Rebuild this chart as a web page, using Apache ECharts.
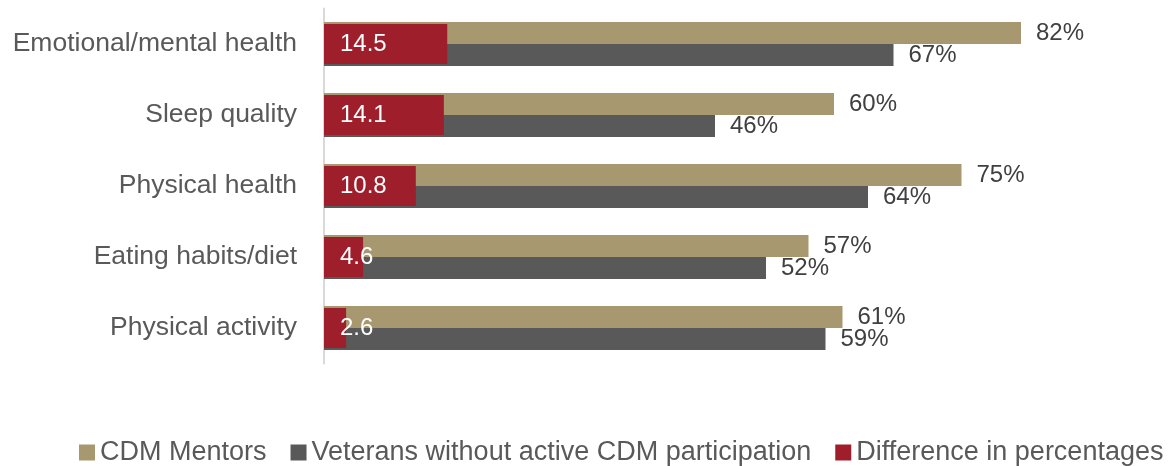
<!DOCTYPE html>
<html>
<head>
<meta charset="utf-8">
<script src="https://cdn.jsdelivr.net/npm/echarts@6/dist/echarts.min.js"></script>
<style>
  html, body { margin: 0; padding: 0; background: #fff; }
  #chart { width: 1170px; height: 466px; }
</style>
</head>
<body>
<div id="chart"></div>
<script>
// Health outcome areas, top to bottom
const categories = ['Emotional/mental health', 'Sleep quality', 'Physical health', 'Eating habits/diet', 'Physical activity'];
// Share reporting improvement (%)
const mentors = [82, 60, 75, 57, 61];
const veterans = [67, 46, 64, 52, 59];
// Gap between the two groups, in percentage points
const difference = [14.5, 14.1, 10.8, 4.6, 2.6];

const seriesNames = ['CDM Mentors', 'Veterans without active CDM participation', 'Difference in percentages'];
const colors = ['#A89870', '#595959', '#9E1F2B'];
const font = '"Liberation Sans", Arial, Helvetica, sans-serif';

const chart = echarts.init(document.getElementById('chart'), null, { renderer: 'canvas' });

const valueLabel = {
  show: true,
  position: 'right',
  distance: 15,
  formatter: '{c}%',
  color: '#404040',
  fontSize: 24,
  fontFamily: font
};

chart.setOption({
  animation: false,
  textStyle: { fontFamily: font },
  grid: { left: 324, top: 8.5, width: 765, height: 355, containLabel: false },
  xAxis: {
    type: 'value', min: 0, max: 90,
    axisLine: { show: false }, axisTick: { show: false },
    axisLabel: { show: false }, splitLine: { show: false }
  },
  yAxis: [
    {
      type: 'category', data: categories, inverse: true,
      axisLine: { show: true, lineStyle: { color: '#D9D9D9', width: 2 } },
      axisTick: { show: false },
      axisLabel: { margin: 27, color: '#595959', fontSize: 26.5, fontFamily: font }
    },
    {
      type: 'category', data: categories, inverse: true, show: false
    }
  ],
  legend: {
    left: 79, top: 439, width: 1091, padding: 0,
    icon: 'rect', itemWidth: 16, itemHeight: 16, itemGap: 24,
    data: seriesNames,
    textStyle: { color: '#595959', fontSize: 27, fontFamily: font }
  },
  series: [
    {
      name: seriesNames[0], type: 'bar', yAxisIndex: 0,
      data: mentors, barWidth: 22, barGap: '0%',
      itemStyle: { color: colors[0] },
      label: valueLabel
    },
    {
      name: seriesNames[1], type: 'bar', yAxisIndex: 0,
      data: veterans, barWidth: 22, barGap: '0%',
      itemStyle: { color: colors[1] },
      label: valueLabel
    },
    {
      name: seriesNames[2], type: 'bar', yAxisIndex: 1,
      data: difference, barWidth: 40,
      itemStyle: { color: colors[2] },
      z: 5,
      label: {
        show: true, position: 'insideLeft', distance: 16,
        color: '#FFFFFF', fontSize: 24, fontFamily: font
      }
    }
  ]
});
</script>
</body>
</html>
